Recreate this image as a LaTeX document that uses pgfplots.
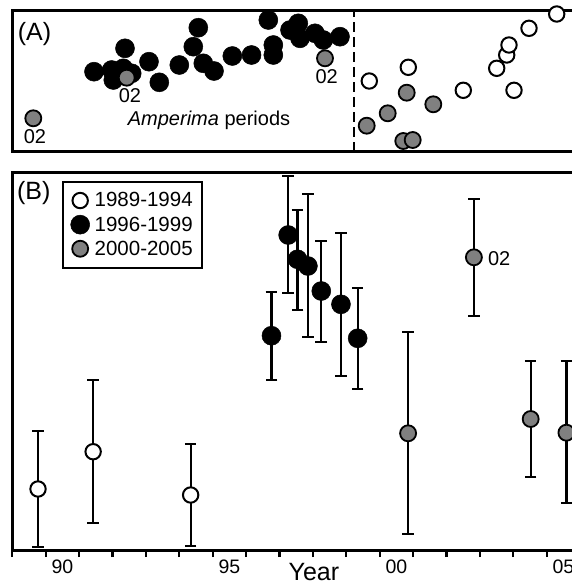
\documentclass[border=0pt]{standalone}
\usepackage{fontspec}
\setmainfont{Liberation Sans}
\usepackage{pgfplots}
\pgfplotsset{compat=1.18}
\usepackage{pgfplotstable}

\definecolor{dotgray}{RGB}{128,128,128}

% panel A: plotted in picture units (x across, y up from the bottom line)
\pgfplotstableread{
x y
94 80.0
111.7 81.7
113.3 71.7
123.3 83.4
125 103.4
131.7 78.4
149 90.0
159.3 69.4
179.3 86.7
193.3 105.0
198.3 124.0
203.3 88.4
214 80.7
232.3 95.7
251.5 96.7
268.3 131.7
273.3 106.7
273.3 96.7
290 121.7
298.3 128.4
300 113.4
315 118.4
323.3 111.7
340 115.0
}\blackA
\pgfplotstableread{
x y
33.3 33.4
126.7 74.0
325 93.4
366.7 26.0
387.7 38.4
406.7 59.0
433.3 47.4
403.3 10.7
412.7 11.7
}\grayA
\pgfplotstableread{
x y
369.3 70.7
408.3 84.4
463.3 61.4
496.7 83.4
506.7 96.7
509 106.7
514 61.4
529 123.4
556.7 137.7
}\openA

% panel B: year, value, error up, error down
\pgfplotstableread{
x y ep em
1989.77 61.7 58.3 58.3
1991.42 99.0 71.7 71.0
1994.34 55.7 50.7 50.7
}\openB
\pgfplotstableread{
x y ep em
1996.76 215.0 44.0 44.3
1997.26 315.7 59.0 57.7
1997.54 291.4 49.3 50.7
1997.85 284.7 71.7 70.7
1998.25 259.7 50.0 51.3
1998.84 246.4 71.6 71.4
1999.34 212.4 50.6 50.7
}\blackB
\pgfplotstableread{
x y ep em
2000.85 117.4 101.0 101.0
2002.82 293.4 58.0 58.7
2004.52 131.7 58.0 58.3
2005.59 118.0 71.7 70.6
}\grayB

\pgfplotsset{
  blk/.style={black, only marks, mark=*, mark size=9.5pt,
    mark options={fill=black, draw=black, line width=0.5pt}},
  gry/.style={black, only marks, mark=*, mark size=8pt,
    mark options={fill=dotgray, draw=black, line width=1.8pt}},
  opn/.style={black, only marks, mark=*, mark size=7.7pt,
    mark options={fill=white, draw=black, line width=2pt}},
  ebar/.style={error bars/.cd, y dir=both, y explicit,
    error bar style={line width=2.3pt, black},
    error mark options={rotate=90, line width=2.3pt, mark size=5.8pt, black}},
  every axis/.append style={font=\fontsize{20}{24}\selectfont},
}

\begin{document}
\begin{tikzpicture}
\begin{axis}[
  at={(12.3pt,-151.7pt)}, anchor=south west,
  scale only axis, width=563.7pt, height=141pt,
  xmin=12.3, xmax=576, ymin=0, ymax=141,
  xtick=\empty, ytick=\empty,
  axis line style={line width=2.5pt},
  clip=false,
]
\addplot[black, line width=2pt, dash pattern=on 10pt off 5pt] coordinates {(354,0) (354,141)};
\addplot[blk] table[x=x,y=y] {\blackA};
\addplot[gry] table[x=x,y=y] {\grayA};
\addplot[opn] table[x=x,y=y] {\openA};
\node[font=\fontsize{25}{30}\selectfont] at (axis cs:34.5,117.2) {(A)};
\node at (axis cs:209,31.7) {\textit{Amperima} periods};
\node at (axis cs:35,15.2) {02};
\node at (axis cs:130,56.2) {02};
\node at (axis cs:326.7,75) {02};
\end{axis}

\begin{axis}[
  at={(12.3pt,-550.7pt)}, anchor=south west,
  scale only axis, width=563.7pt, height=378.4pt,
  xmin=1989, xmax=2005.877, ymin=0, ymax=378.4,
  ytick=\empty,
  xtick={1989,...,2005}, xticklabels={},
  xtick pos=left, tick align=outside,
  major tick length=6.5pt,
  tick style={line width=2.3pt, black},
  extra x ticks={1990.5,1995.5,2000.5,2005.5},
  extra x tick labels={90,95,00,05},
  extra x tick style={major tick length=0pt},
  /pgf/number format/assume math mode=true,
  xticklabel style={font=\fontsize{19.5}{22}\selectfont, yshift=-6pt},
  axis line style={line width=2.5pt},
  xlabel={Year},
  x label style={at={(axis description cs:0.535,0)}, anchor=base,
    yshift=-30pt, font=\fontsize{25}{30}\selectfont},
  clip=false,
  legend style={at={(axis description cs:0.0876,0.978)}, anchor=north west,
    draw=black, line width=2pt, inner xsep=8pt, inner ysep=9.5pt, row sep=5.2pt,
    nodes={inner sep=1.5pt}, font=\fontsize{20.5}{24}\selectfont},
  legend cell align=left,
  legend image code/.code={
    \draw[mark repeat=2,mark phase=2,#1] plot coordinates {(0pt,0pt) (9pt,0pt) (18pt,0pt)};
    \path[draw=none] (0pt,0pt) (22pt,0pt);},
]
\addplot[opn, ebar] table[x=x,y=y,y error plus=ep,y error minus=em] {\openB};
\addlegendentry{1989-1994}
\addplot[blk, ebar] table[x=x,y=y,y error plus=ep,y error minus=em] {\blackB};
\addlegendentry{1996-1999}
\addplot[gry, ebar] table[x=x,y=y,y error plus=ep,y error minus=em] {\grayB};
\addlegendentry{2000-2005}
\node[font=\fontsize{25}{30}\selectfont] at (axis cs:1989.64,357.2) {(B)};
\node[anchor=west, inner sep=0pt] at (axis cs:2003.24,292.4) {02};
\end{axis}
\pgfresetboundingbox
\path[use as bounding box] (0pt,0pt) rectangle (572pt,-586pt);
\end{tikzpicture}
\end{document}
